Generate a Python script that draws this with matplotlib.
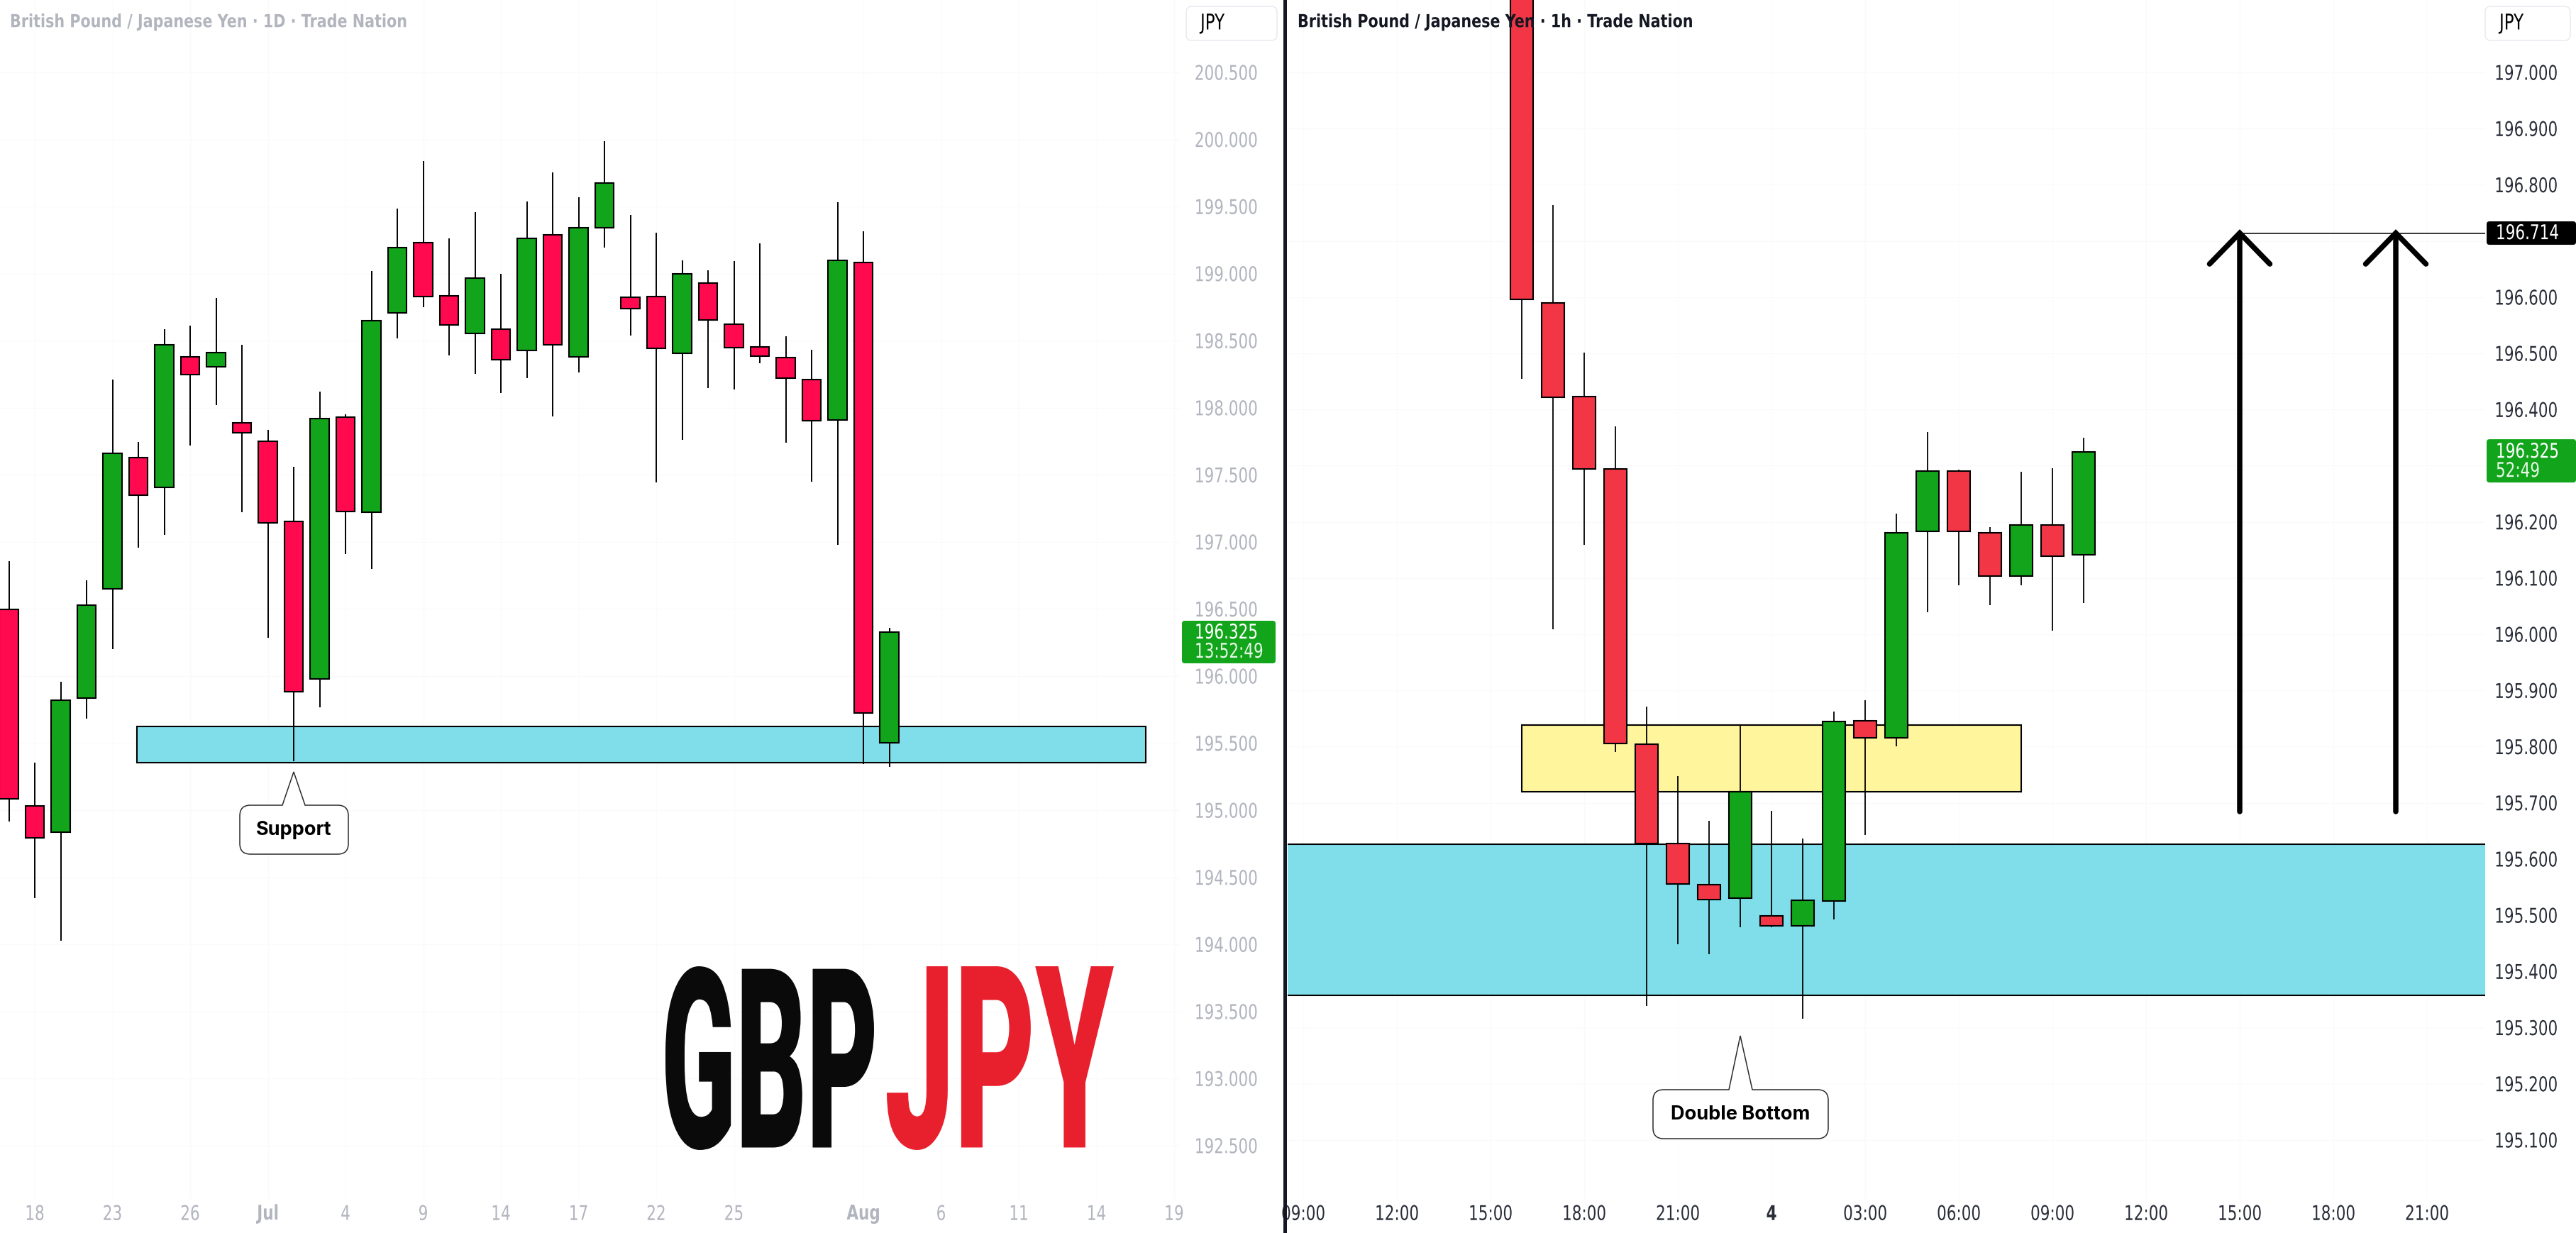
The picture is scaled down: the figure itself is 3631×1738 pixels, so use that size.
import numpy as np
import matplotlib
matplotlib.use('Agg')
import matplotlib.pyplot as plt
from matplotlib.patches import Rectangle, PathPatch, FancyBboxPatch
from matplotlib.path import Path
from matplotlib.lines import Line2D
from matplotlib.transforms import IdentityTransform, Affine2D
from matplotlib.patheffects import AbstractPathEffect
from matplotlib import font_manager

# ---------------- data: GBP/JPY daily (left panel) ----------------
d1_dates = ['2025-06-17', '2025-06-18', '2025-06-19', '2025-06-20', '2025-06-23', '2025-06-24',
            '2025-06-25', '2025-06-26', '2025-06-27', '2025-06-30', '2025-07-01', '2025-07-02',
            '2025-07-03', '2025-07-04', '2025-07-07', '2025-07-08', '2025-07-09', '2025-07-10',
            '2025-07-11', '2025-07-14', '2025-07-15', '2025-07-16', '2025-07-17', '2025-07-18',
            '2025-07-21', '2025-07-22', '2025-07-23', '2025-07-24', '2025-07-25', '2025-07-28',
            '2025-07-29', '2025-07-30', '2025-07-31', '2025-08-01', '2025-08-04']
d1_open = [196.499, 195.032, 194.834, 195.837, 196.651, 197.628, 197.409, 198.379, 198.303, 197.890,
           197.751, 197.152, 195.976, 197.928, 197.220, 198.708, 199.230, 198.834, 198.556, 198.585,
           198.429, 199.289, 198.379, 199.344, 198.826, 198.830, 198.408, 198.931, 198.623, 198.455,
           198.375, 198.210, 197.907, 199.083, 195.500]
d1_high = [196.857, 195.357, 195.959, 196.714, 198.210, 197.747, 198.585, 198.611, 198.817, 198.471,
           197.835, 197.561, 198.122, 197.949, 199.019, 199.483, 199.837, 199.264, 199.458, 198.998,
           199.538, 199.753, 199.567, 199.989, 199.437, 199.306, 199.100, 199.024, 199.095, 199.226,
           198.535, 198.434, 199.534, 199.314, 196.360]
d1_low = [194.914, 194.345, 194.029, 195.685, 196.200, 196.958, 197.051, 197.717, 198.020, 197.220,
          196.284, 195.365, 195.765, 196.908, 196.798, 198.518, 198.750, 198.391, 198.252, 198.109,
          198.223, 197.936, 198.261, 199.192, 198.539, 197.443, 197.763, 198.147, 198.138, 198.332,
          197.742, 197.451, 196.979, 195.344, 195.323]
d1_close = [195.087, 194.796, 195.820, 196.528, 197.658, 197.346, 198.467, 198.248, 198.412, 197.814,
            197.140, 195.883, 197.919, 197.224, 198.649, 199.196, 198.830, 198.619, 198.969, 198.358,
            199.260, 198.467, 199.344, 199.677, 198.737, 198.442, 198.998, 198.653, 198.446, 198.387,
            198.223, 197.902, 199.100, 195.723, 196.325]
d1_tick_dates = ['2025-06-18', '2025-06-23', '2025-06-26', '2025-07-01', '2025-07-04', '2025-07-09',
                 '2025-07-14', '2025-07-17', '2025-07-22', '2025-07-25', '2025-08-01', '2025-08-06',
                 '2025-08-11', '2025-08-14', '2025-08-19']
d1_tick_labels = ['18', '23', '26', 'Jul', '4', '9', '14', '17', '22', '25', 'Aug', '6', '11', '14', '19']
d1_bold_labels = ['Jul', 'Aug']
d1_price_ticks = [200.5, 200.0, 199.5, 199.0, 198.5, 198.0, 197.5, 197.0, 196.5, 196.0,
                  195.5, 195.0, 194.5, 194.0, 193.5, 193.0, 192.5]
support_zone = [195.357, 195.626]          # price range of support (both panels)
d1_zone_span = [3.95, 42.9]                # in trading-day bars after 18 Jun
support_date = '2025-07-02'

# ---------------- data: GBP/JPY 1h (right panel) ----------------
h1_times = ['2025-08-03T16:00', '2025-08-03T17:00', '2025-08-03T18:00', '2025-08-03T19:00',
            '2025-08-03T20:00', '2025-08-03T21:00', '2025-08-03T22:00', '2025-08-03T23:00',
            '2025-08-04T00:00', '2025-08-04T01:00', '2025-08-04T02:00', '2025-08-04T03:00',
            '2025-08-04T04:00', '2025-08-04T05:00', '2025-08-04T06:00', '2025-08-04T07:00',
            '2025-08-04T08:00', '2025-08-04T09:00', '2025-08-04T10:00']
h1_open = [197.350, 196.590, 196.423, 196.294, 195.804, 195.628, 195.554, 195.530, 195.499, 195.481,
           195.525, 195.846, 195.816, 196.183, 196.291, 196.181, 196.104, 196.194, 196.142]
h1_high = [197.450, 196.764, 196.501, 196.370, 195.871, 195.748, 195.668, 195.839, 195.686, 195.636,
           195.862, 195.882, 196.215, 196.360, 196.293, 196.191, 196.289, 196.295, 196.350]
h1_low = [196.455, 196.009, 196.159, 195.791, 195.339, 195.448, 195.430, 195.478, 195.479, 195.316,
          195.493, 195.643, 195.801, 196.039, 196.087, 196.052, 196.087, 196.006, 196.056]
h1_close = [196.596, 196.422, 196.294, 195.806, 195.628, 195.556, 195.528, 195.720, 195.481, 195.527,
            195.845, 195.816, 196.181, 196.291, 196.183, 196.103, 196.195, 196.139, 196.325]
h1_tick_hours = [-15, -12, -9, -6, -3, 0, 3, 6, 9, 12, 15, 18, 21]
h1_tick_labels = ['09:00', '12:00', '15:00', '18:00', '21:00', '4', '03:00', '06:00', '09:00',
                  '12:00', '15:00', '18:00', '21:00']
h1_bold_labels = ['4']
h1_price_ticks = [197.0, 196.9, 196.8, 196.7, 196.6, 196.5, 196.4, 196.3, 196.2, 196.1, 196.0,
                  195.9, 195.8, 195.7, 195.6, 195.5, 195.4, 195.3, 195.2, 195.1]
resistance_zone = [195.720, 195.839]
resistance_hours = [-8, 8]
double_bottom_time = '2025-08-03T23:00'
target_level = 196.714
arrow_hours = [15, 20]
arrow_base = 195.684
last_price = 196.325

# ---------------- setup ----------------
W, H, DPI = 3631, 1738, 100
FONT = 'DejaVu Sans'
names = {f.name for f in font_manager.fontManager.ttflist}
UI = 'Inter' if 'Inter' in names else 'DejaVu Sans'
BIG = 'Roboto' if 'Roboto' in names else ('Inter' if 'Inter' in names else 'DejaVu Sans')


class Stretch(AbstractPathEffect):
    """Draw the glyph outlines of a text scaled about an anchor (narrow/tall look)."""

    def __init__(self, sx=1.0, sy=1.0, xmode='center', ymode='center'):
        super().__init__()
        self.sx, self.sy, self.xmode, self.ymode = sx, sy, xmode, ymode

    def draw_path(self, renderer, gc, tpath, affine, rgbFace=None):
        ext = tpath.get_extents(affine)
        m = affine.get_matrix()
        ax_ = {'left': ext.x0, 'right': ext.x1, 'center': 0.5 * (ext.x0 + ext.x1)}[self.xmode]
        ay_ = {'baseline': m[1, 2], 'center': 0.5 * (ext.y0 + ext.y1)}[self.ymode]
        t = affine + Affine2D().translate(-ax_, -ay_).scale(self.sx, self.sy).translate(ax_, ay_)
        renderer.draw_path(gc, tpath, t, rgbFace)


class FitBox(AbstractPathEffect):
    """Draw the glyph outlines scaled to fill a given pixel box (condensed display type)."""

    def __init__(self, x0, ytop, x1, ybot):
        super().__init__()
        self.box = (x0, H - ybot, x1, H - ytop)

    def draw_path(self, renderer, gc, tpath, affine, rgbFace=None):
        ext = tpath.get_extents(affine)
        bx0, by0, bx1, by1 = self.box
        t = affine + Affine2D().translate(-ext.x0, -ext.y0).scale(
            (bx1 - bx0) / ext.width, (by1 - by0) / ext.height).translate(bx0, by0)
        renderer.draw_path(gc, tpath, t, rgbFace)


TICK_PT = 15.5
TALL = [Stretch(1.0, 1.33, 'center', 'center')]

fig = plt.figure(figsize=(W / DPI, H / DPI), dpi=DPI, facecolor='white')


def fx(x):
    return x / W


def fy(y):
    return 1 - y / H


axL = fig.add_axes([0, fy(1690), 1663 / W, 1690 / H])
axR = fig.add_axes([fx(1815), fy(1690), (3503 - 1815) / W, 1690 / H])
axL.set_xlim(-1.3425, 44.219)
axL.set_ylim(192.1023, 201.0394)
axR.set_xlim(-15.5, 22.864)
axR.set_ylim(194.995, 197.1288)

for ax in (axL, axR):
    ax.set_facecolor('white')
    for s in ax.spines.values():
        s.set_visible(False)
    ax.yaxis.tick_right()
    ax.tick_params(length=0)
    ax.set_axisbelow(True)
    ax.grid(True, color='#fafafc', lw=1.0)

# x positions
d1_x = np.busday_count('2025-06-18', np.array(d1_dates, dtype='datetime64[D]')).astype(float)
d1_tick_x = np.busday_count('2025-06-18', np.array(d1_tick_dates, dtype='datetime64[D]')).astype(float)
h1_x = (np.array(h1_times, dtype='datetime64[m]') - np.datetime64('2025-08-04T00:00')) / np.timedelta64(1, 'h')


def candles(ax, x, o, h, l, c, up, down, width, lwb, lww):
    o, h, l, c = map(np.asarray, (o, h, l, c))
    cols = np.where(c >= o, up, down)
    ax.vlines(x, l, h, color='black', lw=lww, zorder=3)
    ax.bar(x, np.maximum(np.abs(c - o), 1e-3), width=width, bottom=np.minimum(o, c),
           color=cols, edgecolor='black', linewidth=lwb, zorder=4)


def style_labels(labels, bold=()):
    for lab in labels:
        lab.set_path_effects(TALL)
        if lab.get_text() in bold:
            lab.set_fontweight('bold')


# ---- left panel ----
axL.add_patch(Rectangle((d1_zone_span[0], support_zone[0]), d1_zone_span[1] - d1_zone_span[0],
                        support_zone[1] - support_zone[0], facecolor='#80deea', edgecolor='black',
                        lw=1.5, zorder=2))
candles(axL, d1_x, d1_open, d1_high, d1_low, d1_close, '#12a51b', '#ff0a4f', 0.72, 1.5, 1.4)

axL.set_yticks(d1_price_ticks)
axL.set_yticklabels([f'{v:.3f}' for v in d1_price_ticks], fontfamily=FONT, fontsize=TICK_PT,
                    color='#b2b5be')
axL.tick_params(axis='y', pad=15)
axL.set_xticks(d1_tick_x)
axL.set_xticklabels(d1_tick_labels, fontfamily=FONT, fontsize=TICK_PT, color='#b2b5be')
axL.tick_params(axis='x', pad=8)
style_labels(axL.get_yticklabels())
style_labels(axL.get_xticklabels(), d1_bold_labels)

# ---- right panel ----
axR.add_patch(Rectangle((-100, support_zone[0]), 200, support_zone[1] - support_zone[0],
                        facecolor='#80deea', edgecolor='black', lw=1.5, zorder=2))
axR.add_patch(Rectangle((resistance_hours[0], resistance_zone[0]),
                        resistance_hours[1] - resistance_hours[0],
                        resistance_zone[1] - resistance_zone[0],
                        facecolor='#fff59d', edgecolor='black', lw=1.5, zorder=2))
candles(axR, h1_x, h1_open, h1_high, h1_low, h1_close, '#12a41a', '#f23645', 0.74, 1.5, 1.3)

axR.plot([arrow_hours[0], 60], [target_level, target_level], color='black', lw=1.1, zorder=5)
chev_dx, chev_dy = 0.966, 0.055
for ah in arrow_hours:
    axR.plot([ah, ah], [arrow_base, target_level], color='black', lw=5.4, solid_capstyle='round', zorder=6)
    axR.plot([ah - chev_dx, ah, ah + chev_dx], [target_level - chev_dy, target_level, target_level - chev_dy],
             color='black', lw=5.4, solid_capstyle='round', solid_joinstyle='miter', zorder=6)

# labels hidden under the price tags are left blank
covered = [round(last_price, 1), round(target_level, 1)]
axR.set_yticks(h1_price_ticks)
axR.set_yticklabels(['' if round(v, 1) in covered else f'{v:.3f}' for v in h1_price_ticks],
                    fontfamily=FONT, fontsize=TICK_PT, color='#2a2e39')
axR.tick_params(axis='y', pad=9.5)
axR.set_xticks(h1_tick_hours)
axR.set_xticklabels(h1_tick_labels, fontfamily=FONT, fontsize=TICK_PT, color='#2a2e39')
axR.tick_params(axis='x', pad=8)
style_labels(axR.get_yticklabels())
style_labels(axR.get_xticklabels(), h1_bold_labels)


# ---------------- pixel-space helpers ----------------
def data_px(ax, x, y):
    dx, dy = ax.transData.transform((x, y))
    return dx, H - dy


def rbox(x0, y0, x1, y1, r, fc, ec='none', lw=0.0, z=8):
    p = FancyBboxPatch((x0, H - y1), x1 - x0, y1 - y0, boxstyle=f'round,pad=0,rounding_size={r}',
                       fc=fc, ec=ec, lw=lw, transform=IdentityTransform(), zorder=z)
    fig.add_artist(p)


def ptext(x, y, s, **kw):
    return fig.text(fx(x), fy(y), s, **kw)


def bubble(x0, y0, x1, y1, r, apx, apy, bl, br):
    pts = [(bl, y0), (apx, apy), (br, y0), (x1 - r, y0), (x1, y0), (x1, y0 + r), (x1, y1 - r),
           (x1, y1), (x1 - r, y1), (x0 + r, y1), (x0, y1), (x0, y1 - r), (x0, y0 + r), (x0, y0),
           (x0 + r, y0), (bl, y0), (bl, y0)]
    M, L, Q, CL = Path.MOVETO, Path.LINETO, Path.CURVE3, Path.CLOSEPOLY
    codes = [M, L, L, L, Q, Q, L, Q, Q, L, Q, Q, L, Q, Q, L, CL]
    path = Path([(x, H - y) for x, y in pts], codes)
    fig.add_artist(PathPatch(path, fc='white', ec='#2b2b2b', lw=1.1, transform=IdentityTransform(), zorder=8))


# titles
TITLE_FX = [Stretch(1.0, 1.22, 'left', 'center')]
ptext(14, 31, 'British Pound / Japanese Yen · 1D · Trade Nation', fontfamily=FONT,
      fontweight='bold', fontsize=14.9, color='#b2b5be', va='center', ha='left', zorder=9,
      path_effects=TITLE_FX)
ptext(1829, 31, 'British Pound / Japanese Yen · 1h · Trade Nation', fontfamily=FONT,
      fontweight='bold', fontsize=14.9, color='#131722', va='center', ha='left', zorder=9,
      path_effects=TITLE_FX)

# JPY currency boxes
rbox(1672, 9, 1800, 57, 8, 'white', '#e6e8ee', 1.0)
ptext(1692, 33, 'JPY', fontfamily=FONT, fontsize=16.5, color='black', va='center', ha='left', zorder=9,
      path_effects=TALL)
rbox(3503, 9, 3623, 57, 8, 'white', '#e6e8ee', 1.0)
ptext(3523, 33, 'JPY', fontfamily=FONT, fontsize=16.5, color='black', va='center', ha='left', zorder=9,
      path_effects=TALL)

# price tags
_, yl = data_px(axL, 0, last_price)
rbox(1666, yl - 16.5, 1798, yl + 43.5, 4, '#12a51b')
ptext(1684, yl, f'{last_price:.3f}', fontfamily=FONT, fontsize=TICK_PT, color='white', va='center',
      zorder=9, path_effects=TALL)
ptext(1684, yl + 27, '13:52:49', fontfamily=FONT, fontsize=TICK_PT, color='#e6f7e6', va='center',
      zorder=9, path_effects=TALL)

_, yr = data_px(axR, 0, last_price)
rbox(3505, yr - 17.5, 3631, yr + 43.5, 4, '#12a51b')
ptext(3518, yr, f'{last_price:.3f}', fontfamily=FONT, fontsize=TICK_PT, color='white', va='center',
      zorder=9, path_effects=TALL)
ptext(3518, yr + 27, '52:49', fontfamily=FONT, fontsize=TICK_PT, color='#e6f7e6', va='center',
      zorder=9, path_effects=TALL)

_, yt = data_px(axR, 0, target_level)
rbox(3505, yt - 16.5, 3631, yt + 16.5, 4, '#000000')
ptext(3518, yt, f'{target_level:.3f}', fontfamily=FONT, fontsize=TICK_PT, color='white', va='center',
      zorder=9, path_effects=TALL)

# callouts
sx = np.busday_count('2025-06-18', np.datetime64(support_date))
apx, _ = data_px(axL, float(sx), support_zone[0])
bubble(apx - 76, 1135, apx + 77, 1204, 15, apx, 1088, apx - 16, apx + 16)
ptext(apx, 1170, 'Support', fontfamily=UI, fontweight='bold', fontsize=19.5, color='black',
      ha='center', va='center', zorder=9)

dbx = (np.datetime64(double_bottom_time) - np.datetime64('2025-08-04T00:00')) / np.timedelta64(1, 'h')
bpx, _ = data_px(axR, float(dbx), support_zone[0])
bubble(bpx - 123, 1536, bpx + 124, 1605, 15, bpx, 1460, bpx - 16, bpx + 17)
ptext(bpx, 1571, 'Double Bottom', fontfamily=UI, fontweight='bold', fontsize=19.5, color='black',
      ha='center', va='center', zorder=9)

# big GBPJPY watermark (tall condensed display type)
ptext(1085, 1621, 'GBP', fontfamily=BIG, fontweight='black', fontsize=110, color='#0a0a0a',
      ha='center', va='baseline', zorder=9, path_effects=[FitBox(938, 1362, 1232, 1621)])
ptext(1410, 1621, 'JPY', fontfamily=BIG, fontweight='black', fontsize=125, color='#e8202e',
      ha='center', va='baseline', zorder=9, path_effects=[FitBox(1250, 1362, 1570, 1621)])

# divider between panels
fig.add_artist(Line2D([fx(1810.5), fx(1810.5)], [0, 1], transform=fig.transFigure, color='#131722',
                      lw=3.6, zorder=10))

fig.savefig('out.png', dpi=DPI, facecolor='white')
